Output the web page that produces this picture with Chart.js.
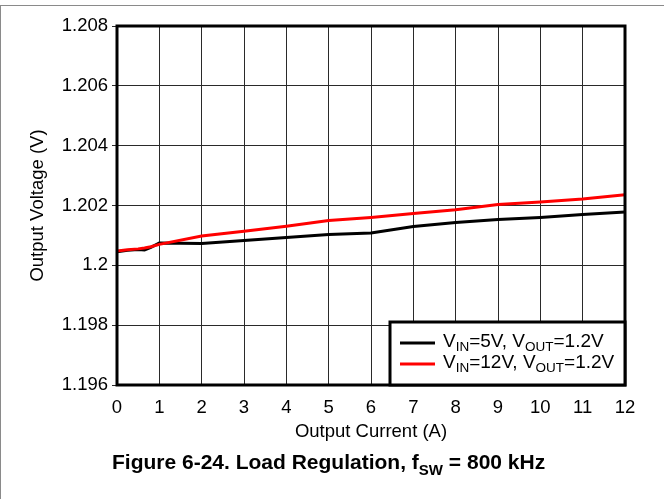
<!DOCTYPE html>
<html>
<head>
<meta charset="utf-8">
<script src="https://cdn.jsdelivr.net/npm/chart.js@4"></script>
<style>
html,body{margin:0;padding:0;background:#fff;}
#wrap{position:relative;width:664px;height:499px;}
</style>
</head>
<body>
<div id="wrap"><canvas id="c" width="664" height="499"></canvas></div>
<script>
// ---- data ----
const currentA = [0, 0.25, 0.5, 0.65, 0.8, 1, 2, 3, 4, 5, 6, 7, 8, 9, 10, 11, 12];
const vin5Vout = [1.20045, 1.2005, 1.20053, 1.20051, 1.2006, 1.20075, 1.20073, 1.20083, 1.20093, 1.20103, 1.20108, 1.2013, 1.20143, 1.20153, 1.2016, 1.2017, 1.20178];
const vin12Vout = [1.20048, 1.20052, 1.20055, 1.20058, 1.20062, 1.2007, 1.20098, 1.20114, 1.20131, 1.20150, 1.2016, 1.20173, 1.20186, 1.20203, 1.20212, 1.20222, 1.20236];
const yTickLabels = ['1.196', '1.198', '1.2', '1.202', '1.204', '1.206', '1.208'];
const xTickLabels = ['0','1','2','3','4','5','6','7','8','9','10','11','12'];

const FONT = "'Liberation Sans', Arial, sans-serif";

const toXY = (xs, ys) => xs.map((x, i) => ({x: x, y: ys[i]}));

// Helper to draw text with subscripts: parts = [[text, isSub], ...]
function drawRich(ctx, parts, x, y, size, subSize, bold) {
  let cx = x;
  for (const [t, sub] of parts) {
    ctx.font = (bold ? 'bold ' : '') + (sub ? subSize : size) + 'px ' + FONT;
    ctx.fillText(t, cx, sub ? y + size * 0.28 : y);
    cx += ctx.measureText(t).width;
  }
  return cx;
}

const decor = {
  id: 'decor',
  beforeDraw(chart) {
    const ctx = chart.ctx;
    ctx.save();
    ctx.fillStyle = '#fff';
    ctx.fillRect(0, 0, chart.width, chart.height);
    ctx.strokeStyle = '#8a8a8a';
    ctx.lineWidth = 1;
    ctx.beginPath();
    ctx.moveTo(0, 5.5); ctx.lineTo(chart.width, 5.5);
    ctx.moveTo(0.5, 5.5); ctx.lineTo(0.5, chart.height);
    ctx.stroke();
    ctx.restore();
  },
  afterDraw(chart) {
    const ctx = chart.ctx;
    const a = chart.chartArea;
    ctx.save();
    // plot border
    ctx.strokeStyle = '#000';
    ctx.lineWidth = 3;
    ctx.strokeRect(a.left, a.top, a.right - a.left, a.bottom - a.top);
    // legend box
    const lx = 390, ly = 322;
    ctx.fillStyle = '#fff';
    ctx.fillRect(lx, ly, a.right - lx, a.bottom - ly);
    ctx.lineWidth = 3;
    ctx.strokeRect(lx, ly, a.right - lx, a.bottom - ly);
    const rows = [
      {color: '#000', y: 343, parts: [['V', false], ['IN', true], ['=5V, V', false], ['OUT', true], ['=1.2V', false]]},
      {color: '#ff0000', y: 364, parts: [['V', false], ['IN', true], ['=12V, V', false], ['OUT', true], ['=1.2V', false]]}
    ];
    for (const r of rows) {
      ctx.strokeStyle = r.color;
      ctx.lineWidth = 3;
      ctx.beginPath();
      ctx.moveTo(400, r.y); ctx.lineTo(435, r.y);
      ctx.stroke();
      ctx.fillStyle = '#000';
      ctx.textBaseline = 'middle';
      ctx.textAlign = 'left';
      drawRich(ctx, r.parts, 443, r.y - 1, 19, 13.5, false);
    }
    // figure caption
    ctx.fillStyle = '#000';
    ctx.textBaseline = 'alphabetic';
    drawRich(ctx, [['Figure 6-24. Load Regulation, f', false], ['SW', true], [' = 800 kHz', false]], 112, 469, 21, 15, true);
    ctx.restore();
  }
};

new Chart(document.getElementById('c'), {
  type: 'line',
  data: {
    datasets: [
      {
        label: 'VIN=5V, VOUT=1.2V',
        data: toXY(currentA, vin5Vout),
        borderColor: '#000',
        borderWidth: 3,
        pointRadius: 0,
        tension: 0,
        order: 2
      },
      {
        label: 'VIN=12V, VOUT=1.2V',
        data: toXY(currentA, vin12Vout),
        borderColor: '#ff0000',
        borderWidth: 3,
        pointRadius: 0,
        tension: 0,
        order: 1
      }
    ]
  },
  options: {
    responsive: false,
    animation: false,
    devicePixelRatio: 1,
    layout: {padding: {top: 26, right: 39, bottom: 56, left: 0}},
    plugins: {legend: {display: false}, tooltip: {enabled: false}},
    scales: {
      x: {
        type: 'linear',
        min: 0, max: 12,
        afterBuildTicks: (s) => { s.ticks = xTickLabels.map(v => ({value: Number(v)})); },
        ticks: {
          callback: (v, i) => xTickLabels[i],
          color: '#000',
          font: {family: FONT, size: 18.5},
          padding: 12,
          maxRotation: 0,
          autoSkip: false
        },
        grid: {color: '#2a2a2a', lineWidth: 1, drawTicks: false},
        border: {display: false},
        title: {display: true, text: 'Output Current (A)', color: '#000', font: {family: FONT, size: 18.5}, padding: {top: 0, bottom: 0}},
        afterFit: (s) => { s.height = 58; }
      },
      y: {
        type: 'linear',
        min: 1.196, max: 1.208,
        afterBuildTicks: (s) => { s.ticks = yTickLabels.map(v => ({value: Number(v)})); },
        ticks: {
          callback: (v, i) => yTickLabels[i],
          color: '#000',
          font: {family: FONT, size: 18.5},
          padding: 4
        },
        grid: {color: '#2a2a2a', lineWidth: 1, drawTicks: true, tickLength: 5},
        border: {display: false},
        title: {display: true, text: 'Output Voltage (V)', color: '#000', font: {family: FONT, size: 18.5}, padding: {top: 27, bottom: 0}},
        afterFit: (s) => { s.width = 117; }
      }
    }
  },
  plugins: [decor]
});
</script>
</body>
</html>
